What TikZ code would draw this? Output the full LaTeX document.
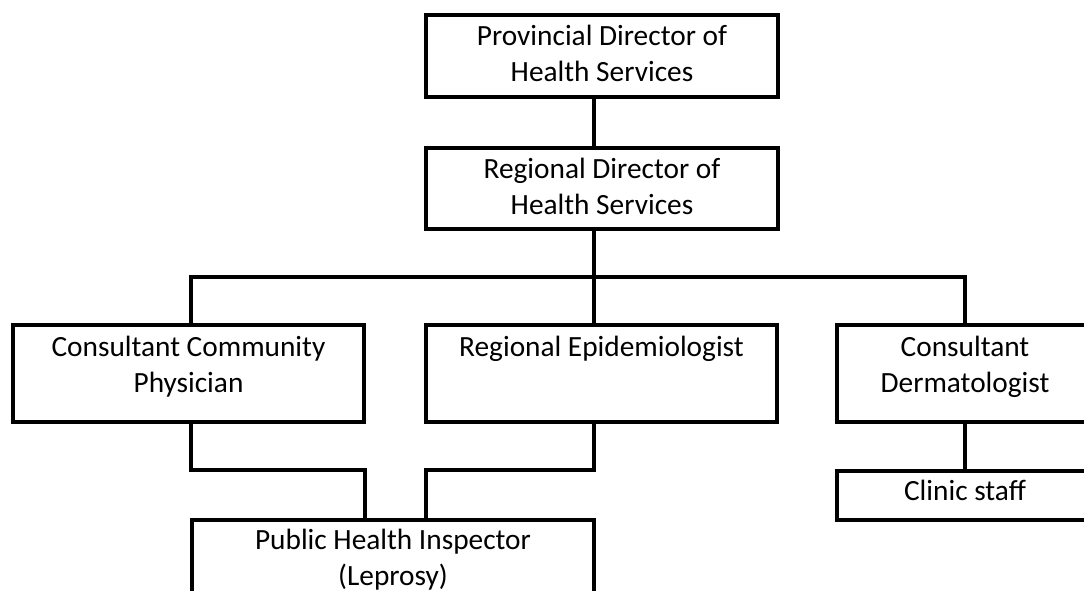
\documentclass[tikz,border=0pt]{standalone}
\usepackage{fontspec}
\setmainfont{Carlito}
\usetikzlibrary{calc}
\begin{document}
\begin{tikzpicture}[x=0.75pt,y=-0.75pt,
  orgbox/.style={draw=black, line width=3pt, rectangle, inner sep=0pt, outer sep=0pt},
  orgtext/.style={anchor=base, inner sep=0pt, font=\fontsize{22}{27}\selectfont},
  conn/.style={draw=black, line width=3pt}]
\useasboundingbox (0,0) rectangle (1084,590);
\clip (0,0) rectangle (1084,590);
\fill[white] (0,0) rectangle (1084,590);

% boxes of the chart
\node[orgbox, minimum width=264pt,    minimum height=61.5pt]  (pd)     at (602,56)     {};
\node[orgbox, minimum width=264pt,    minimum height=60.75pt] (rd)     at (602,188.5)  {};
\node[orgbox, minimum width=263.25pt, minimum height=72.75pt] (ccp)    at (188.5,373.5) {};
\node[orgbox, minimum width=263.25pt, minimum height=72.75pt] (re)     at (601.5,373.5) {};
\node[orgbox, minimum width=192pt,    minimum height=72.75pt] (cd)     at (965,373.5)  {};
\node[orgbox, minimum width=192pt,    minimum height=36.75pt] (clinic) at (965,495.5)  {};
\node[orgbox, minimum width=301.5pt,  minimum height=72.75pt] (phi)    at (393,568.5)  {};

% titles, set from the top of each box
\node[orgtext] (pdt) at ($(pd.north)+(0,30)$)
  {\begin{tabular}[t]{@{}c@{}}Provincial Director of\\Health Services\end{tabular}};
\node[orgtext] (rdt) at ($(rd.north)+(0,30)$)
  {\begin{tabular}[t]{@{}c@{}}Regional Director of\\Health Services\end{tabular}};
\node[orgtext] (ccpt) at ($(ccp.north)+(0,31)$)
  {\begin{tabular}[t]{@{}c@{}}Consultant Community\\Physician\end{tabular}};
\node[orgtext] (ret) at ($(re.north)+(0,31)$) {Regional Epidemiologist};
\node[orgtext] (cdt) at ($(cd.north)+(0,31)$)
  {\begin{tabular}[t]{@{}c@{}}Consultant\\Dermatologist\end{tabular}};
\node[orgtext] (clinict) at ($(clinic.north)+(0,29.5)$) {Clinic staff};
\node[orgtext] (phit) at ($(phi.north)+(0,29.5)$)
  {\begin{tabular}[t]{@{}c@{}}Public Health Inspector\\(Leprosy)\end{tabular}};

% reporting lines
\coordinate (trunk) at (594,0);
\coordinate (bus)   at (0,277);
\coordinate (xa)    at (191,0);
\coordinate (jl)    at (365,470);
\coordinate (jr)    at (426,470);

\draw[conn] (pd.south -| trunk) -- (rd.north -| trunk);
\draw[conn] (rd.south -| trunk) -- (trunk |- bus);
\draw[conn] (ccp.north -| xa) -- (xa |- bus) -- (cd.north |- bus) -- (cd.north);
\draw[conn] (trunk |- bus) -- (re.north -| trunk);
\draw[conn] (ccp.south -| xa) |- (jl) -- (jl |- phi.north);
\draw[conn] (re.south -| trunk) |- (jr) -- (jr |- phi.north);
\draw[conn] (cd.south) -- (clinic.north);
\end{tikzpicture}
\end{document}
